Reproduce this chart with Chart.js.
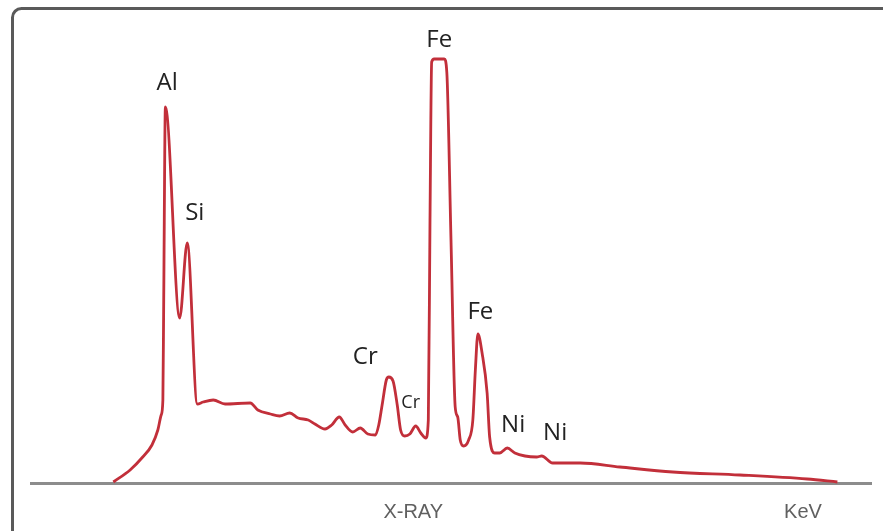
<!DOCTYPE html>
<html>
<head>
<meta charset="utf-8">
<script src="https://cdn.jsdelivr.net/npm/chart.js@4"></script>
<style>
  html, body { margin: 0; padding: 0; background: #ffffff; overflow: hidden; }
  #c { display: block; }
</style>
</head>
<body>
<canvas id="c" width="883" height="531"></canvas>
<script>
// Energy (keV) and intensity (counts)
const energyKeV = [0.98, 1.18, 1.33, 1.44, 1.51, 1.55, 1.57, 1.58, 1.60, 1.77, 1.86, 1.98, 2.05, 2.17, 2.31, 2.61, 2.70, 2.85, 2.96, 3.08, 3.18, 3.30, 3.38, 3.50, 3.58, 3.67, 3.74, 3.83, 3.92, 4.01, 4.10, 4.14, 4.18, 4.23, 4.26, 4.31, 4.36, 4.40, 4.45, 4.51, 4.58, 4.64, 4.70, 4.73, 4.75, 4.77, 4.80, 4.92, 4.95, 5.00, 5.05, 5.08, 5.11, 5.15, 5.21, 5.26, 5.29, 5.32, 5.37, 5.43, 5.46, 5.52, 5.58, 5.67, 5.76, 5.88, 6.02, 6.08, 6.21, 6.54, 7.01, 7.64, 8.44, 9.24, 9.60];
const counts    = [2, 26, 52, 76, 106, 136, 166, 366, 752, 330, 480, 158, 162, 166, 158, 160, 146, 138, 134, 140, 130, 126, 118, 108, 116, 132, 116, 102, 110, 98, 96, 116, 156, 206, 212, 204, 156, 106, 94, 98, 114, 100, 90, 126, 526, 842, 848, 848, 822, 486, 152, 132, 86, 74, 86, 126, 226, 298, 260, 180, 92, 60, 60, 70, 60, 54, 52, 54, 40, 40, 32, 22, 16, 8, 2];

// Peak annotations
const peakNames  = ['Al', 'Si', 'Fe', 'Cr', 'Cr', 'Fe', 'Ni', 'Ni'];
const peakKeV    = [1.62, 1.95, 4.86, 3.98, 4.52, 5.35, 5.74, 6.24];
const peakCounts = [800, 540, 886, 252, 160, 342, 116, 100];
const peakSmall  = [false, false, false, false, true, false, false, false];

// Axis labels
const tickValues = [4.55, 9.19];
const tickLabels = ['X-RAY', 'KeV'];

const points = energyKeV.map((e, i) => ({ x: e, y: counts[i] }));

const framePlugin = {
  id: 'frame',
  beforeDraw(chart) {
    const ctx = chart.ctx;
    const r = 9;
    ctx.save();
    ctx.strokeStyle = '#5a5a5a';
    ctx.lineWidth = 3;
    ctx.beginPath();
    ctx.moveTo(12.5, chart.height + 5);
    ctx.lineTo(12.5, 8.5 + r);
    ctx.arcTo(12.5, 8.5, 12.5 + r, 8.5, r);
    ctx.lineTo(chart.width + 5, 8.5);
    ctx.stroke();
    ctx.restore();
  }
};

const peakLabelPlugin = {
  id: 'peakLabels',
  afterDatasetsDraw(chart) {
    const { ctx, scales: { x, y } } = chart;
    ctx.save();
    ctx.fillStyle = '#222222';
    ctx.textAlign = 'center';
    ctx.textBaseline = 'middle';
    peakNames.forEach((name, i) => {
      ctx.font = (peakSmall[i] ? '18px' : '24px') + ' "Open Sans", sans-serif';
      ctx.fillText(name, x.getPixelForValue(peakKeV[i]), y.getPixelForValue(peakCounts[i]));
    });
    ctx.restore();
  }
};

new Chart(document.getElementById('c'), {
  type: 'line',
  data: {
    datasets: [{
      data: points,
      borderColor: '#c22f3a',
      borderWidth: 2.8,
      pointRadius: 0,
      fill: false,
      cubicInterpolationMode: 'monotone',
      clip: false
    }]
  },
  options: {
    responsive: false,
    animation: false,
    events: [],
    layout: { padding: { left: 31, right: 12, top: 18, bottom: 0 } },
    plugins: { legend: { display: false }, tooltip: { enabled: false } },
    scales: {
      x: {
        type: 'linear',
        min: 0,
        max: 10,
        grid: { display: false },
        border: { display: true, color: '#8c8c8c', width: 3 },
        afterBuildTicks(scale) { scale.ticks = tickValues.map(v => ({ value: v })); },
        afterFit(scale) { scale.height = 48; },
        ticks: {
          autoSkip: false,
          maxRotation: 0,
          padding: 9,
          color: '#606060',
          font: { family: '"Liberation Sans", Arial, sans-serif', size: 20 },
          callback: (v, i) => tickLabels[i]
        }
      },
      y: {
        display: false,
        min: 0,
        max: 930
      }
    }
  },
  plugins: [framePlugin, peakLabelPlugin]
});
</script>
</body>
</html>
